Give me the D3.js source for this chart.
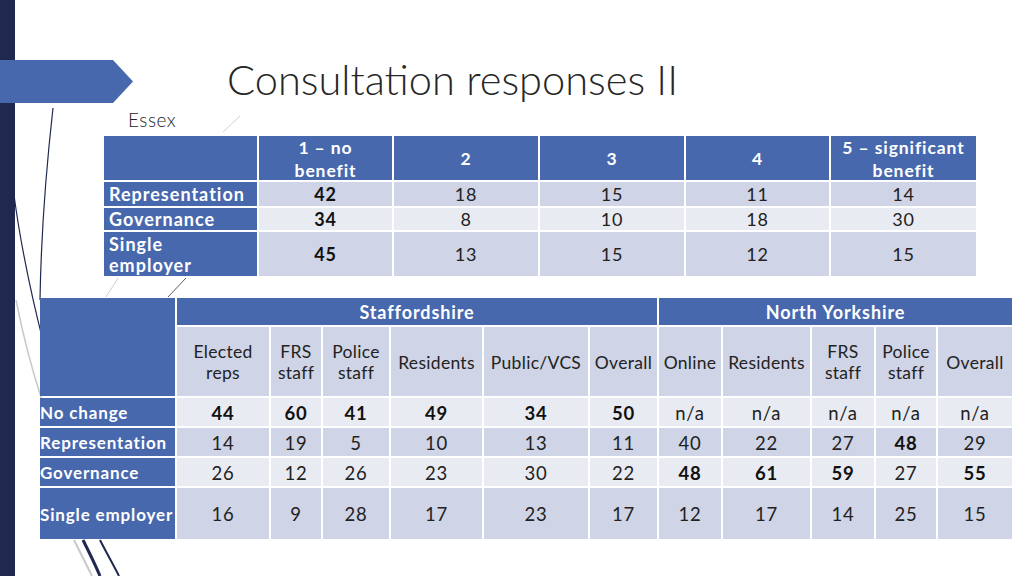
<!DOCTYPE html>
<html>
<head>
<meta charset="utf-8">
<script src="https://cdn.jsdelivr.net/npm/d3@7"></script>
<style>
  body { margin: 0; background: #fff; }
  svg { display: block; font-family: Lato, "Open Sans", sans-serif; }
</style>
</head>
<body>
<div id="chart-container"></div>
<script>
// ---- data ----
var essexColumns = [["1 – no", "benefit"], ["2"], ["3"], ["4"], ["5 – significant", "benefit"]]
var essexRows = [["Representation"], ["Governance"], ["Single", "employer"]]
var essexValues = [
  [42, 18, 15, 11, 14],
  [34, 8, 10, 18, 30],
  [45, 13, 15, 12, 15]
]

var regions = ["Staffordshire", "North Yorkshire"]
var staffordshireGroups = [["Elected", "reps"], ["FRS", "staff"], ["Police", "staff"], ["Residents"], ["Public/VCS"], ["Overall"]]
var northYorkshireGroups = [["Online"], ["Residents"], ["FRS", "staff"], ["Police", "staff"], ["Overall"]]
var optionRows = ["No change", "Representation", "Governance", "Single employer"]
var staffordshireValues = [
  [44, 60, 41, 49, 34, 50],
  [14, 19, 5, 10, 13, 11],
  [26, 12, 26, 23, 30, 22],
  [16, 9, 28, 17, 23, 17]
]
var northYorkshireValues = [
  [null, null, null, null, null],
  [40, 22, 27, 48, 29],
  [48, 61, 59, 27, 55],
  [12, 17, 14, 25, 15]
]

// ---- layout ----
var width = 1024, height = 576
var blue = "#4868ae", bandDark = "#cfd4e6", bandLight = "#e9ebf3", ink = "#222"

var svg = d3.select('#chart-container')
  .append('svg')
  .attr('width', width)
  .attr('height', height)

/* background decoration */
svg.append('rect').attr('x', 0).attr('y', 0).attr('width', 15).attr('height', height).attr('fill', '#20284f')

var deco = svg.append('g').attr('fill', 'none')
deco.append('path').attr('d', 'M53,108 C46,170 41,240 40,300').attr('stroke', '#20284f').attr('stroke-width', 1.2)
deco.append('path').attr('d', 'M14,195 C20,240 30,290 44,345').attr('stroke', '#20284f').attr('stroke-width', 1.2)
deco.append('path').attr('d', 'M16,300 C24,340 32,370 42,400').attr('stroke', '#c9c9c9').attr('stroke-width', 1.5)
deco.append('path').attr('d', 'M223,132 L240,116').attr('stroke', '#cfcfcf').attr('stroke-width', 1)
deco.append('path').attr('d', 'M106,297 L118,278').attr('stroke', '#cfcfcf').attr('stroke-width', 1)
deco.append('path').attr('d', 'M168,297 L186,278').attr('stroke', '#333').attr('stroke-width', 0.8)
deco.append('path').attr('d', 'M74,540 C80,552 86,564 92,576').attr('stroke', '#c9c9c9').attr('stroke-width', 2)
deco.append('path').attr('d', 'M83,540 C89,552 95,564 100,576').attr('stroke', '#20284f').attr('stroke-width', 3)
deco.append('path').attr('d', 'M100,540 C106,552 113,564 119,576').attr('stroke', '#20284f').attr('stroke-width', 2)

/* arrow */
svg.append('path')
  .attr('d', 'M0,60 L113,60 L133,81.5 L113,103 L0,103 Z')
  .attr('fill', blue)

/* title */
svg.append('text')
  .attr('x', 227).attr('y', 95)
  .attr('font-size', 42)
  .attr('font-weight', 300)
  .attr('fill', '#262626')
  .attr('textLength', 451)
  .attr('lengthAdjust', 'spacingAndGlyphs')
  .text('Consultation responses II')

svg.append('text')
  .attr('x', 128).attr('y', 127)
  .attr('font-size', 19)
  .attr('font-weight', 300)
  .attr('fill', '#222')
  .attr('letter-spacing', 0.5)
  .text('Essex')

// edges from column widths through a linear scale
function edges(widths, x0, x1) {
  var cum = [0].concat(Array.from(d3.cumsum(widths)))
  var s = d3.scaleLinear().domain([0, d3.sum(widths)]).range([x0, x1])
  return cum.map(s)
}

function drawCells(g, colE, rowE, cells) {
  cells.forEach(function(c) {
    var x0 = colE[c.c0], x1 = colE[c.c1], y0 = rowE[c.r0], y1 = rowE[c.r1]
    g.append('rect')
      .attr('x', x0 + 1).attr('y', y0 + 1)
      .attr('width', x1 - x0 - 2).attr('height', y1 - y0 - 2)
      .attr('fill', c.fill)
    if (!c.lines) return
    var cy = (y0 + y1) / 2
    var n = c.lines.length
    var tx = c.align === 'left' ? x0 + (c.pad || 5) : (x0 + x1) / 2
    c.lines.forEach(function(line, i) {
      var by = cy + (i - (n - 1) / 2) * c.ls + c.size * 0.36 + 1
      g.append('text')
        .attr('x', tx).attr('y', by)
        .attr('text-anchor', c.align === 'left' ? 'start' : 'middle')
        .attr('font-size', c.size)
        .attr('font-weight', c.bold ? 'bold' : 'normal')
        .attr('letter-spacing', c.sp || 0)
        .attr('fill', c.color)
        .text(line)
    })
  })
}

/* Essex table */
var essexColE = edges([155, 135, 146, 146, 145, 147], 103, 977)
var essexRowE = [135, 181, 207, 231, 277]
var essexCells = []
essexCells.push({c0: 0, c1: 1, r0: 0, r1: 1, fill: blue})
essexColumns.forEach(function(lines, j) {
  essexCells.push({c0: j + 1, c1: j + 2, r0: 0, r1: 1, fill: blue, lines: lines, size: 17.5, ls: 23, bold: true, color: '#fff', sp: 0.9})
})
essexRows.forEach(function(lines, i) {
  var fill = i % 2 === 0 ? bandDark : bandLight
  essexCells.push({c0: 0, c1: 1, r0: i + 1, r1: i + 2, fill: blue, lines: lines, size: 18, ls: 21, bold: true, color: '#fff', align: 'left', pad: 6, sp: 1})
  var rowMax = d3.max(essexValues[i])
  essexValues[i].forEach(function(v, j) {
    essexCells.push({c0: j + 1, c1: j + 2, r0: i + 1, r1: i + 2, fill: fill, lines: [String(v)], size: 18, ls: 0, bold: v === rowMax, color: v === rowMax ? '#111' : ink, sp: 0.8})
  })
})
drawCells(svg.append('g'), essexColE, essexRowE, essexCells)

/* Staffordshire / North Yorkshire table */
var bottomColE = edges([137, 94, 52, 68, 93, 106, 69, 64, 89, 64, 62, 76], 39, 1013)
var bottomRowE = [297, 326, 397, 427, 457, 487, 540]
var groups = staffordshireGroups.concat(northYorkshireGroups)
var values = staffordshireValues.map(function(row, i) { return row.concat(northYorkshireValues[i]) })
var bottomCells = []
bottomCells.push({c0: 0, c1: 1, r0: 0, r1: 2, fill: blue})
bottomCells.push({c0: 1, c1: 1 + staffordshireGroups.length, r0: 0, r1: 1, fill: blue, lines: [regions[0]], size: 18, ls: 0, bold: true, color: '#fff', sp: 0.9})
bottomCells.push({c0: 1 + staffordshireGroups.length, c1: 1 + groups.length, r0: 0, r1: 1, fill: blue, lines: [regions[1]], size: 18, ls: 0, bold: true, color: '#fff', sp: 0.9})
groups.forEach(function(lines, j) {
  bottomCells.push({c0: j + 1, c1: j + 2, r0: 1, r1: 2, fill: bandDark, lines: lines, size: 17.5, ls: 21, color: ink, sp: 0.3})
})
var colMax = groups.map(function(g, j) { return d3.max(values, function(r) { return r[j] }) })
optionRows.forEach(function(label, i) {
  var fill = i % 2 === 0 ? bandLight : bandDark
  bottomCells.push({c0: 0, c1: 1, r0: i + 2, r1: i + 3, fill: blue, lines: [label], size: 17, ls: 0, bold: true, color: '#fff', align: 'left', pad: 1, sp: 0.85})
  values[i].forEach(function(v, j) {
    var isMax = v !== null && v === colMax[j]
    bottomCells.push({c0: j + 1, c1: j + 2, r0: i + 2, r1: i + 3, fill: fill, lines: [v === null ? 'n/a' : String(v)], size: 18.5, ls: 0, bold: isMax, color: isMax ? '#111' : ink, sp: 0.8})
  })
})
drawCells(svg.append('g'), bottomColE, bottomRowE, bottomCells)
</script>
</body>
</html>
